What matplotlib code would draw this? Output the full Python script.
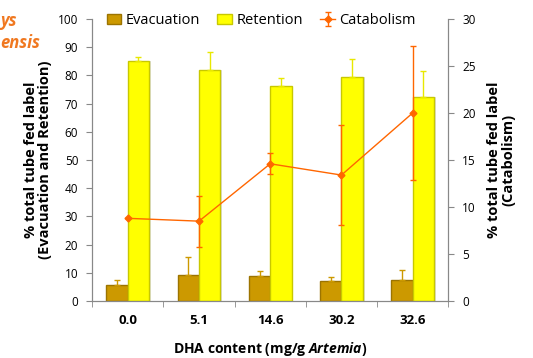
import matplotlib.pyplot as plt
import numpy as np

# Data
dha = ["0.0", "5.1", "14.6", "30.2", "32.6"]
evacuation = [5.8, 9.3, 8.9, 7.0, 7.3]
evacuation_err = [1.5, 6.2, 1.8, 1.5, 3.7]
retention = [85.1, 81.9, 76.2, 79.3, 72.4]
retention_err = [1.4, 6.5, 2.9, 6.6, 9.2]
catabolism = [8.8, 8.5, 14.6, 13.4, 20.0]
catabolism_err = [0.0, 2.7, 1.1, 5.3, 7.1]

plt.rcParams['font.family'] = ['Open Sans', 'DejaVu Sans']
plt.rcParams['mathtext.fontset'] = 'custom'
plt.rcParams['mathtext.bfit'] = 'Open Sans:bold:italic'

fig = plt.figure(figsize=(5.33, 3.58), dpi=100)
ax = fig.add_axes([0.173, 0.159, 0.668, 0.788])
ax2 = ax.twinx()

x = np.arange(len(dha))
w = 0.3
grey = "#888888"

# shadow behind bars
ax.bar(x - w / 2 + 0.025, evacuation, w, color="#dddddd", zorder=1)
ax.bar(x + w / 2 + 0.025, retention, w, color="#dddddd", zorder=1)

bEv = ax.bar(x - w / 2, evacuation, w, color="#CC9900", edgecolor="#9C7400",
             linewidth=1, zorder=2, label="Evacuation")
bRe = ax.bar(x + w / 2, retention, w, color="#FFFF00", edgecolor="#C8C800",
             linewidth=1, zorder=2, label="Retention")
ax.errorbar(x - w / 2, evacuation, yerr=[np.zeros(5), evacuation_err], fmt="none",
            ecolor="#CC9900", elinewidth=1, capsize=2, zorder=3)
ax.errorbar(x + w / 2, retention, yerr=[np.zeros(5), retention_err], fmt="none",
            ecolor="#E8E800", elinewidth=1, capsize=2, zorder=3)

ln = ax2.errorbar(x, catabolism, yerr=catabolism_err, color="#FF6600", marker="D",
                  markersize=3.5, linewidth=1, elinewidth=1, capsize=2,
                  label="Catabolism")

ax.set_xlim(-0.5, 4.5)
ax.set_ylim(0, 100)
ax2.set_ylim(0, 30)
ax.set_yticks(range(0, 101, 10))
ax2.set_yticks(range(0, 31, 5))
ax.set_xticks(x)
ax.set_xticklabels(dha, fontweight="bold", fontsize=9.5)
ax.set_xticks(np.arange(-0.5, 5, 1), minor=True)
ax.tick_params(axis="x", which="major", length=0, pad=9)
ax.tick_params(axis="x", which="minor", length=4, color=grey, direction="out")
ax.tick_params(axis="y", labelsize=8.5, length=4, color=grey, pad=6)
ax2.tick_params(axis="y", labelsize=8.5, length=4, color=grey, pad=6)

ax2.set_zorder(ax.get_zorder() + 1)
ax2.patch.set_visible(False)
for a in (ax, ax2):
    a.spines["top"].set_visible(False)
    for s in ("left", "right", "bottom"):
        a.spines[s].set_color(grey)

ax.set_ylabel("% total tube fed label\n(Evacuation and Retention)",
              fontweight="bold", fontsize=10.5, labelpad=4, linespacing=1.0)
ax2.set_ylabel("% total tube fed label\n(Catabolism)", fontweight="bold",
               fontsize=10.5, labelpad=8, linespacing=1.0)
ax.set_xlabel(r"DHA content (mg/g $\mathbfit{Artemia}$)", fontweight="bold",
              fontsize=10, labelpad=10)

fig.legend([bEv, bRe, ln], ["Evacuation", "Retention", "Catabolism"],
           loc="upper center", bbox_to_anchor=(0.49, 1.0), ncol=3, frameon=False,
           fontsize=10.5, handlelength=1.0, handletextpad=0.3, columnspacing=1.2)

# cropped title remnant at top-left
fig.text(0.0, 0.94, "ys", color="#F07820", fontsize=12, fontweight="bold",
         style="italic", ha="left", va="center")
fig.text(0.0, 0.88, "ensis", color="#F07820", fontsize=12, fontweight="bold",
         style="italic", ha="left", va="center")

plt.savefig("out.png", dpi=100)
